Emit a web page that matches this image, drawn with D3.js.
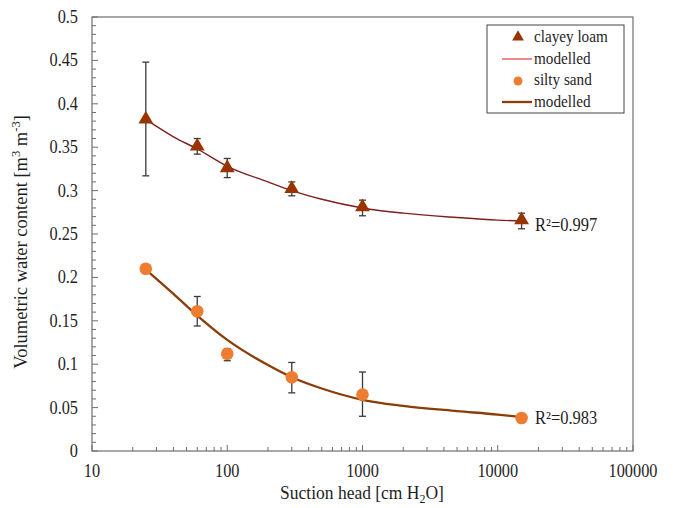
<!DOCTYPE html>
<html><head><meta charset="utf-8">
<script src="https://cdn.jsdelivr.net/npm/d3@7"></script>
<style>body{margin:0;background:#fff}svg{display:block}</style>
</head><body><svg id="c" width="673" height="508" font-family="Liberation Serif, Times New Roman, DejaVu Serif, serif"></svg>
<script>
// Data
const suction = [25, 60, 100, 300, 1000, 15000];
const clayeyLoam = [0.381, 0.350, 0.325, 0.301, 0.280, 0.265];
const clayeyErrLow = [0.317, 0.342, 0.315, 0.294, 0.271, 0.256];
const clayeyErrHigh = [0.448, 0.360, 0.337, 0.310, 0.289, 0.274];
const siltySand = [0.210, 0.161, 0.112, 0.085, 0.065, 0.038];
const siltyErrLow = [null, 0.144, 0.104, 0.067, 0.040, null];
const siltyErrHigh = [null, 0.178, 0.118, 0.102, 0.091, null];
const modelSuction = [25, 40, 60, 100, 200, 300, 500, 1000, 2000, 5000, 10000, 15000];
const clayeyModel = [0.382, 0.362, 0.348, 0.328, 0.310, 0.300, 0.290, 0.280, 0.274, 0.269, 0.266, 0.265];
const siltyModel = [0.209, 0.181, 0.156, 0.128, 0.099, 0.085, 0.072, 0.059, 0.052, 0.046, 0.042, 0.039];
const xTicks = [10, 100, 1000, 10000, 100000];
const yTicks = [0, 0.05, 0.1, 0.15, 0.2, 0.25, 0.3, 0.35, 0.4, 0.45, 0.5];
const r2Labels = ["R²=0.997", "R²=0.983"];

const svg = d3.select("#c");
const L = 92, R = 633, T = 17, B = 451;
const x = d3.scaleLog().domain([10, 100000]).range([L, R]);
const y = d3.scaleLinear().domain([0, 0.5]).range([B, T]);
const axisCol = "#6e6e6e";
const txt = "#1e1e1e";

// frame
svg.append("rect").attr("x", L).attr("y", T).attr("width", R - L).attr("height", B - T)
  .attr("fill", "none").attr("stroke", axisCol).attr("stroke-width", 1.2);

// y minor ticks
const yMinor = d3.range(0, 51).map(d => d / 100);
svg.append("g").selectAll("line").data(yMinor).join("line")
  .attr("x1", L).attr("x2", d => L + (Math.round(d * 100) % 5 === 0 ? 6 : 4))
  .attr("y1", d => y(d)).attr("y2", d => y(d)).attr("stroke", axisCol).attr("stroke-width", 1);
// y labels
svg.append("g").selectAll("text").data(yTicks).join("text")
  .attr("transform", d => `translate(78,${y(d) + 6}) scale(1,1.1)`).attr("text-anchor", "end")
  .attr("font-size", 16.3).attr("fill", txt)
  .text(d => d3.format("")(d));

// x minor ticks
const xMinor = [];
for (let e = 1; e < 5; e++) for (let k = 2; k <= 9; k++) xMinor.push(k * Math.pow(10, e));
svg.append("g").selectAll("line").data(xMinor).join("line")
  .attr("x1", d => x(d)).attr("x2", d => x(d)).attr("y1", B).attr("y2", B - 4)
  .attr("stroke", axisCol).attr("stroke-width", 1);
svg.append("g").selectAll("line").data(xTicks).join("line")
  .attr("x1", d => x(d)).attr("x2", d => x(d)).attr("y1", B).attr("y2", B - 6)
  .attr("stroke", axisCol).attr("stroke-width", 1);
svg.append("g").selectAll("text").data(xTicks).join("text")
  .attr("transform", d => `translate(${x(d)},477) scale(1,1.1)`).attr("text-anchor", "middle")
  .attr("font-size", 16.3).attr("fill", txt)
  .text(d => d);

// axis titles
svg.append("text").attr("transform", "translate(362,499) scale(1,1.08)").attr("text-anchor", "middle").attr("font-size", 17.5).attr("fill", txt)
  .html('Suction head [cm H<tspan dy="3.5" font-size="12">2</tspan><tspan dy="-3.5">O]</tspan>');
svg.append("text").attr("transform", "translate(27,242) rotate(-90)").attr("text-anchor", "middle").attr("font-size", 18.5).attr("fill", txt)
  .html('Volumetric water content [m<tspan dy="-7" font-size="12.5">3</tspan><tspan dy="7">  m</tspan><tspan dy="-7" font-size="12.5">-3</tspan><tspan dy="7">]</tspan>');

// model lines
const line = d3.line().x(d => x(d[0])).y(d => y(d[1])).curve(d3.curveMonotoneX);
svg.append("path").attr("d", line(modelSuction.map((s, i) => [s, clayeyModel[i]])))
  .attr("fill", "none").attr("stroke", "#7f1f1f").attr("stroke-width", 1.4);
svg.append("path").attr("d", line(modelSuction.map((s, i) => [s, siltyModel[i]])))
  .attr("fill", "none").attr("stroke", "#8a3d07").attr("stroke-width", 2.3);

// error bars
function errBars(lo, hi) {
  const g = svg.append("g").attr("stroke", "#3a3a3a").attr("stroke-width", 1.3);
  suction.forEach((s, i) => {
    if (lo[i] == null) return;
    const cx = x(s);
    g.append("line").attr("x1", cx).attr("x2", cx).attr("y1", y(lo[i])).attr("y2", y(hi[i]));
    g.append("line").attr("x1", cx - 3.5).attr("x2", cx + 3.5).attr("y1", y(lo[i])).attr("y2", y(lo[i]));
    g.append("line").attr("x1", cx - 3.5).attr("x2", cx + 3.5).attr("y1", y(hi[i])).attr("y2", y(hi[i]));
  });
}
errBars(clayeyErrLow, clayeyErrHigh);
errBars(siltyErrLow, siltyErrHigh);

// markers
const tri = d3.symbol().type(d3.symbolTriangle).size(95);
svg.append("g").selectAll("path").data(suction).join("path")
  .attr("d", tri).attr("transform", (d, i) => `translate(${x(d)},${y(clayeyLoam[i]) - 1})`)
  .attr("fill", "#993300");
svg.append("g").selectAll("circle").data(suction).join("circle")
  .attr("cx", d => x(d)).attr("cy", (d, i) => y(siltySand[i])).attr("r", 6.3)
  .attr("fill", "#ed7d31");

// R2 labels
svg.append("text").attr("transform", "translate(535,231) scale(1,1.1)").attr("font-size", 16.5).attr("fill", txt).text(r2Labels[0]);
svg.append("text").attr("transform", "translate(535,424) scale(1,1.1)").attr("font-size", 16.5).attr("fill", txt).text(r2Labels[1]);

// legend
const lg = svg.append("g");
lg.append("rect").attr("x", 487).attr("y", 25).attr("width", 137).attr("height", 88)
  .attr("fill", "#fff").attr("stroke", "#444").attr("stroke-width", 1);
lg.append("path").attr("d", d3.symbol().type(d3.symbolTriangle).size(60)).attr("transform", "translate(518,37)").attr("fill", "#993300");
lg.append("line").attr("x1", 502).attr("x2", 532).attr("y1", 59).attr("y2", 59).attr("stroke", "#d9413a").attr("stroke-width", 1.2);
lg.append("circle").attr("cx", 518).attr("cy", 81).attr("r", 4.5).attr("fill", "#ed7d31");
lg.append("line").attr("x1", 502).attr("x2", 532).attr("y1", 102).attr("y2", 102).attr("stroke", "#8a3d07").attr("stroke-width", 2.3);
const lgText = ["clayey loam", "modelled", "silty sand", "modelled"];
lg.selectAll("text").data(lgText).join("text")
  .attr("transform", (d, i) => `translate(534,${42 + i * 21.5}) scale(1,1.08)`)
  .attr("font-size", 15.2).attr("fill", txt).text(d => d);
</script></body></html>
